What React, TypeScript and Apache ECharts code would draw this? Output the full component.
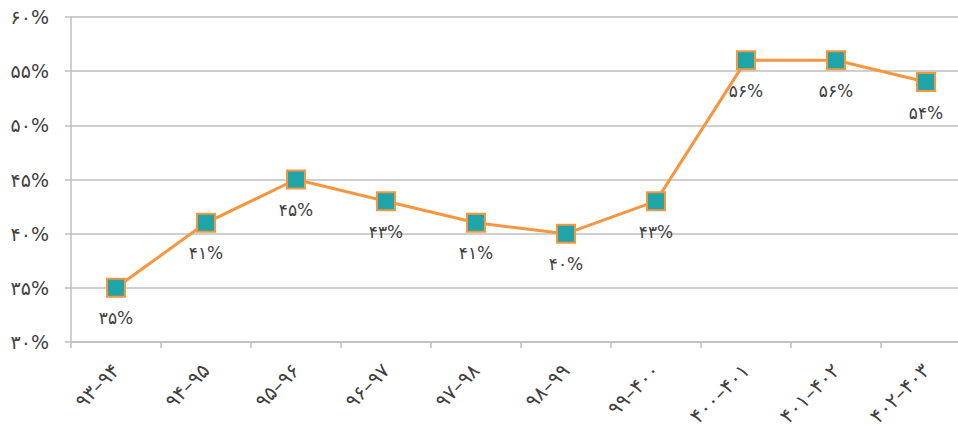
import React, { useEffect, useRef } from "react";
import * as echarts from "echarts";

const categories = ["۹۳–۹۴", "۹۴–۹۵", "۹۵–۹۶", "۹۶–۹۷", "۹۷–۹۸", "۹۸–۹۹", "۹۹–۴۰۰", "۴۰۰–۴۰۱", "۴۰۱–۴۰۲", "۴۰۲–۴۰۳"];
const values = [35, 41, 45, 43, 41, 40, 43, 56, 56, 54];
const yMin = 30;
const yMax = 60;
const yStep = 5;

const fa = (n: number) => String(n).replace(/\d/g, (d) => "۰۱۲۳۴۵۶۷۸۹"[Number(d)]);

export default function App() {
  const ref = useRef<HTMLDivElement>(null);
  useEffect(() => {
    const chart = echarts.init(ref.current!, null, { renderer: "svg" });
    chart.setOption({
      animation: false,
      backgroundColor: "#ffffff",
      grid: { left: 71, right: 0, top: 17, bottom: 97, containLabel: false },
      xAxis: {
        type: "category",
        data: categories,
        boundaryGap: true,
        axisLine: { lineStyle: { color: "#BFBFBF", width: 1.5 } },
        axisTick: { show: true, length: 6, lineStyle: { color: "#BFBFBF", width: 1.5 } },
        axisLabel: {
          rotate: 45,
          interval: 0,
          margin: 25,
          fontSize: 20,
          color: "#404040",
          fontFamily: "DejaVu Sans",
        },
      },
      yAxis: {
        type: "value",
        min: yMin,
        max: yMax,
        interval: yStep,
        axisLine: { show: true, lineStyle: { color: "#BFBFBF", width: 1.5 } },
        axisTick: { show: true, length: 6, lineStyle: { color: "#BFBFBF", width: 1.5 } },
        splitLine: { lineStyle: { color: "#BFBFBF", width: 1.5 } },
        axisLabel: {
          formatter: (v: number) => fa(v) + "%",
          fontSize: 19,
          margin: 22,
          color: "#404040",
          fontFamily: "DejaVu Sans",
        },
      },
      series: [
        {
          type: "line",
          data: values,
          symbol: "rect",
          symbolSize: 18,
          lineStyle: { color: "#F7963F", width: 3 },
          itemStyle: { color: "#1FA5A8", borderColor: "#F7963F", borderWidth: 2 },
          label: {
            show: true,
            position: "bottom",
            distance: 12,
            formatter: (p: any) => fa(p.value) + "%",
            fontSize: 17,
            color: "#404040",
            fontFamily: "DejaVu Sans",
          },
        },
      ],
    });
    return () => chart.dispose();
  }, []);
  return (
    <div style={{ width: 958, height: 439, position: "absolute", left: 0, top: 0, overflow: "hidden", background: "#fff" }}>
      <div ref={ref} style={{ width: 971, height: 439 }} />
    </div>
  );
}
